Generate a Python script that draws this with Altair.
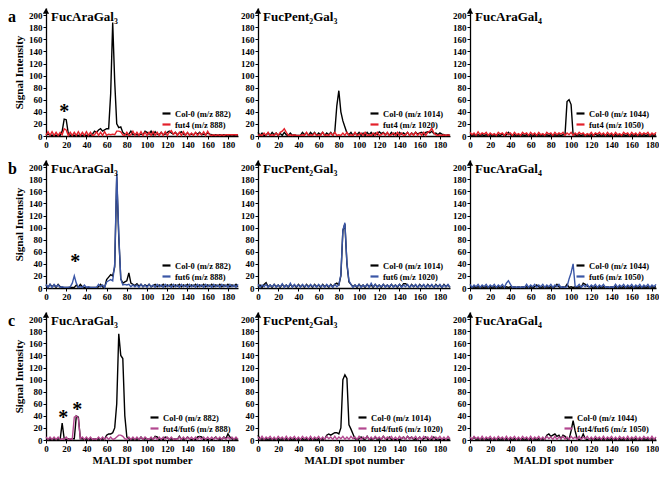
import altair as alt
import pandas as pd

# ---------------- data ----------------
glycans = ["FucAraGal₃", "FucPent₂Gal₃", "FucAraGal₄"]
col0_mz = [882, 1014, 1044]
mutant_mz = [888, 1020, 1050]
mutants = ["fut4", "fut6", "fut4/fut6"]
row_letters = ["a", "b", "c"]
mutant_colors = ["#e3202a", "#3a56a6", "#b3478f"]
x_ticks = [0, 20, 40, 60, 80, 100, 120, 140, 160, 180]
y_ticks = [0, 20, 40, 60, 80, 100, 120, 140, 160, 180, 200]
spot_step = 2  # values below are read every 2nd MALDI spot, starting at spot 0

# row a : Col-0 vs fut4
a1_col0 = [2,3,2,1,2,1,2,1,8,28, 27,5,1,2,1,2,1,2,1,2, 1,2,1,3,8,6,10,12,8,10,
           12,12,70,188,90,20,14,15,6,3, 2,3,8,2,3,2,2,3,2,8, 6,3,8,2,7,3,2,6,2,3,
           6,8,5,3,6,2,5,7,3,2, 5,2,3,2,5,3,6,2,3,2, 5,3,2,1,2,1,2,1,2,1, 2,1,2,1,2,1]
a1_mut = [1,7,1,7,1,6,1,6,2,12, 10,1,6,1,6,1,7,1,6,1, 7,1,6,1,2,7,1,6,1,7,
          1,3,2,3,2,8,8,7,2,1, 6,1,2,8,1,6,1,7,1,6, 1,6,1,7,1,6,1,6,1,7,
          1,6,9,3,6,1,6,1,7,1, 6,1,5,1,6,1,5,2,7,1, 8,2,1,2,1,2,1,2,1,2, 2,2,2,2,2,2]
a2_col0 = [6,1,5,1,2,5,1,6,2,5, 1,4,1,6,2,1,5,1,2,1, 1,1,6,2,5,1,6,2,6,1,
           5,2,6,1,5,2,6,1,7,50, 75,40,25,15,5,2,6,1,5,2, 6,1,5,1,6,2,6,1,5,2,
           7,4,6,2,5,1,6,2,5,1, 6,3,5,2,6,1,5,2,6,3, 5,6,2,6,7,5,8,4,5,2, 5,3,2,1,2,1]
a2_mut = [1,2,1,5,1,6,1,2,1,5, 1,6,8,12,6,1,2,1,2,1, 1,1,2,1,6,1,2,1,5,1,
          2,1,6,1,2,1,5,1,6,1, 2,1,5,1,6,1,2,1,6,1, 2,5,1,6,1,2,1,5,1,6,
          1,2,5,1,6,1,2,5,1,6, 1,5,1,2,6,1,5,1,6,1, 5,1,6,1,6,8,13,5,2,1, 2,1,2,1,2,1]
a3_col0 = [2,1,2,1,2,1,2,1,2,1, 2,1,2,1,2,1,3,1,2,6, 2,1,2,1,2,1,2,1,2,1,
           2,1,2,1,2,1,2,1,2,1, 2,1,2,1,2,1,2,2,57,60, 52,2,2,1,2,1,2,1,2,1,
           2,1,3,1,2,1,2,1,2,1, 2,1,2,1,2,1,2,1,2,1, 2,1,2,1,2,1,2,1,2,1, 2,1,2,1,2,1]
a3_mut = [6,2,5,1,7,2,5,3,6,1, 5,2,4,1,6,3,5,1,6,2, 5,1,6,2,4,1,6,3,5,1,
          6,2,5,1,6,2,4,1,6,3, 5,1,6,2,5,3,6,1,5,2, 6,1,5,2,6,3,5,1,4,2,
          6,1,5,3,6,2,5,1,6,2, 5,1,6,2,4,1,6,3,5,1, 6,2,5,1,6,2,5,3,6,1, 5,2,6,1,5,2]

# row b : Col-0 vs fut6
b1_col0 = [5,1,6,2,5,1,6,2,1,1, 1,1,1,1,1,5,1,6,2,1, 1,1,1,1,1,1,2,6,2,1,
           14,18,22,20,35,185,85,15,8,10, 12,25,8,6,4,7,3,6,2,5, 3,6,2,4,6,2,5,3,6,2,
           5,3,6,2,5,3,6,2,5,3, 6,2,5,3,6,2,5,3,6,2, 5,3,6,2,5,3,6,2,5,3, 6,2,5,3,6,2]
b1_mut = [6,1,6,1,6,2,5,1,2,1, 1,1,2,8,20,8,1,2,1,5, 1,2,1,1,1,1,6,2,5,1,
          10,12,14,12,40,190,90,15,5,6, 5,6,2,5,2,5,1,6,2,5, 1,6,2,5,1,6,2,5,1,6,
          2,5,1,6,2,5,1,6,2,5, 1,6,2,5,1,6,2,5,1,6, 2,5,1,6,2,5,1,6,2,5, 1,6,2,5,1,6]
b2_col0 = [2,5,1,6,9,2,5,1,6,2, 5,1,6,2,5,1,6,2,5,1, 6,2,5,1,6,2,5,1,6,2,
           5,1,6,2,5,1,6,2,6,8, 5,20,95,106,40,10,6,2,5,1, 6,2,5,1,6,2,5,1,6,2,
           5,1,6,2,5,1,6,2,5,1, 6,2,7,7,5,1,6,2,5,1, 6,2,5,1,6,2,5,1,6,2, 5,1,6,2,5,1]
b2_mut = [6,1,5,2,6,1,5,2,6,1, 5,2,7,1,5,2,8,1,6,2, 5,1,6,2,5,1,6,2,5,1,
          6,2,5,1,6,2,5,1,6,2, 5,22,96,108,42,12,6,1,5,2, 6,1,5,2,6,1,8,2,6,1,
          5,2,6,1,5,2,6,1,5,2, 6,1,5,2,6,1,5,2,6,1, 5,2,6,1,5,2,6,1,5,2, 6,1,5,2,6,1]
b3_col0 = [2,1,2,1,2,1,2,1,2,1, 2,1,2,1,2,1,2,1,2,1, 2,1,2,1,2,1,2,1,2,1,
           2,1,2,5,2,1,2,1,2,1, 2,1,2,6,2,1,2,1,6,1, 2,1,2,1,2,1,8,6,3,2,
           2,1,2,1,2,1,2,1,2,1, 2,1,2,1,2,1,2,1,2,1, 2,1,2,1,2,1,2,1,2,1, 2,1,2,1,2,1]
b3_mut = [6,1,5,2,6,1,5,2,6,1, 5,2,6,1,5,2,6,1,8,12, 6,1,2,1,2,1,2,1,6,1,
          5,2,6,1,5,2,6,1,5,2, 6,1,5,2,6,1,2,1,2,15, 25,40,3,2,6,1,5,2,6,1,
          5,2,6,1,5,2,6,1,2,1, 2,1,6,1,5,2,6,1,5,2, 6,1,5,2,6,1,5,2,6,1, 5,2,6,1,5,2]

# row c : Col-0 vs fut4/fut6
c1_col0 = [2,1,2,1,2,1,2,1,28,2, 1,2,1,2,2,40,38,2,2,1, 2,1,2,1,2,1,2,1,2,1,
           8,10,10,12,20,60,176,140,135,40, 5,2,1,2,1,2,1,5,1,2, 2,1,2,1,6,5,1,2,1,5,
           4,1,2,1,2,1,6,1,2,1, 5,2,1,2,1,5,6,5,1,2, 1,2,1,2,5,1,2,1,5,2, 10,5,2,1,2,1]
c1_mut = [5,1,5,1,5,1,5,1,2,1, 5,1,2,1,38,40,36,2,5,1, 5,1,5,1,2,1,5,1,5,1,
          5,1,5,1,2,5,8,8,6,2, 1,5,1,5,1,5,1,5,1,5, 2,1,5,1,5,1,5,1,5,1,
          5,1,5,1,2,1,5,1,5,1, 5,1,5,1,5,1,5,1,5,1, 5,1,5,1,5,1,5,1,5,1, 5,1,5,1,5,1]
c2_col0 = [8,1,2,1,2,1,2,1,2,1, 2,1,2,1,2,1,2,1,2,1, 2,1,2,1,2,1,2,1,2,1,
           2,1,2,1,8,10,8,10,12,12, 10,20,100,108,102,25,18,10,2,1, 2,5,2,1,6,1,2,1,5,1,
           2,1,6,2,1,5,1,2,1,2, 1,2,5,1,6,2,5,1,2,1, 5,1,2,5,1,2,1,5,1,2, 1,2,1,2,1,2]
c2_mut = [5,1,6,1,5,2,6,1,5,1, 6,2,5,1,6,1,5,2,6,1, 5,1,6,2,5,1,6,1,5,2,
          6,1,5,1,6,2,5,1,6,1, 5,2,6,1,5,1,6,2,5,1, 6,1,5,2,6,1,5,1,6,2,
          5,1,6,1,5,2,6,1,5,1, 6,2,5,1,6,1,5,2,6,1, 5,1,6,2,5,1,6,1,5,2, 6,1,5,1,6,2]
c3_col0 = [2,1,5,1,2,1,2,1,2,1, 2,1,2,1,2,1,2,1,2,1, 2,1,2,1,2,1,2,1,2,1,
           2,1,2,1,2,1,2,1,8,10, 6,8,10,6,8,2,8,6,2,1, 15,32,15,2,1,2,10,2,1,2,
           2,1,2,1,2,1,2,1,2,1, 2,1,2,1,2,1,2,1,2,1, 2,1,2,1,2,1,2,1,2,1, 2,1,2,1,2,1]
c3_mut = [5,1,6,2,5,1,6,1,5,2, 6,1,5,1,6,2,5,1,6,1, 5,2,6,1,5,1,6,2,5,1,
          6,1,5,2,6,1,5,1,6,2, 5,1,6,1,5,2,6,1,5,1, 6,2,5,1,6,1,5,2,6,1,
          5,1,6,2,5,1,6,1,5,2, 6,1,5,1,6,2,5,1,6,1, 5,2,6,1,5,1,6,2,5,1, 6,1,5,2,6,1]

series = [
    [(a1_col0, a1_mut), (a2_col0, a2_mut), (a3_col0, a3_mut)],
    [(b1_col0, b1_mut), (b2_col0, b2_mut), (b3_col0, b3_mut)],
    [(c1_col0, c1_mut), (c2_col0, c2_mut), (c3_col0, c3_mut)],
]

# asterisks (first column only)
star_row = [0, 1, 2, 2]
star_spot = [18, 29, 17, 31]
star_signal = [46, 50, 43, 56]

# ---------------- styling ----------------
FONT = "Liberation Serif"
x_max = [190, 190, 184]      # last column is cut by the figure edge
widths = [192, 192, 186]
Y_MAX = 212
H = 128


def panel(r, c):
    col_vals, mut_vals = series[r][c]
    col_label = f"Col-0 (m/z {col0_mz[c]})"
    mut_label = f"{mutants[r]} (m/z {mutant_mz[c]})"
    n1, n2 = len(col_vals), len(mut_vals)
    df = pd.DataFrame({
        "spot": [i * spot_step for i in range(n1)] + [i * spot_step for i in range(n2)],
        "signal": col_vals + mut_vals,
        "line": [col_label] * n1 + [mut_label] * n2,
    })
    df = df[df["spot"] <= x_max[c]]

    x = alt.X("spot:Q", scale=alt.Scale(domain=[0, x_max[c]], nice=False),
              axis=alt.Axis(values=x_ticks, title="MALDI spot number" if r == 2 else None))
    y = alt.Y("signal:Q", scale=alt.Scale(domain=[0, Y_MAX], nice=False),
              axis=alt.Axis(values=y_ticks, title="Signal Intensity" if c == 0 else None))
    color = alt.Color("line:N",
                      scale=alt.Scale(domain=[col_label, mut_label],
                                      range=["#000000", mutant_colors[r]]),
                      legend=alt.Legend(title=None, orient="bottom-right", offset=7))

    base = alt.Chart(df)
    col_line = base.transform_filter(alt.datum.line == col_label).mark_line(
        strokeWidth=1.4).encode(x=x, y=y, color=color)
    mut_line = base.transform_filter(alt.datum.line == mut_label).mark_line(
        strokeWidth=1.4).encode(x=x, y=y, color=color)

    name_df = pd.DataFrame({"spot": [5], "signal": [Y_MAX], "label": [glycans[c]]})
    name = alt.Chart(name_df).mark_text(
        align="left", baseline="top", dy=3, fontSize=13, fontWeight="bold", font=FONT,
        color="black").encode(x=x, y=y, text="label:N")

    arrow_df = pd.DataFrame({"spot": [0], "signal": [Y_MAX - 5]})
    arrow = alt.Chart(arrow_df).mark_point(
        shape="triangle-up", filled=True, size=40, color="black", opacity=1).encode(x=x, y=y)

    layers = [col_line, mut_line, name, arrow]

    idx = [k for k in range(len(star_row)) if star_row[k] == r and c == 0]
    if idx:
        star_df = pd.DataFrame({"spot": [star_spot[k] for k in idx],
                                "signal": [star_signal[k] for k in idx],
                                "label": ["*"] * len(idx)})
        stars = alt.Chart(star_df).mark_text(
            fontSize=20, fontWeight="bold", font=FONT, color="black",
            baseline="middle", dy=4).encode(x=x, y=y, text="label:N")
        layers.append(stars)

    ch = alt.layer(*layers).properties(width=widths[c], height=H)
    if c == 0:
        ch = ch.properties(title=alt.TitleParams(
            text=row_letters[r], anchor="start", frame="group", orient="top",
            offset=0, dx=-38, dy=30, baseline="alphabetic",
            fontSize=16, fontWeight="bold", font=FONT, color="black"))
    return ch


charts = [panel(r, c) for r in range(3) for c in range(3)]

chart = alt.concat(
    *charts, columns=3, spacing={"row": 24, "column": 20}, bounds="flush"
).resolve_scale(color="independent").properties(
    padding={"left": 0, "top": 0, "right": 0, "bottom": 0}
).configure_view(strokeWidth=0).configure_axis(
    labelFont=FONT, labelFontSize=9, labelFontWeight="bold", labelColor="black",
    titleFont=FONT, titleFontSize=11, titleFontWeight="bold", titleColor="black",
    domainColor="black", domainWidth=1.3, tickColor="black", tickWidth=1, tickSize=3,
    grid=False, labelPadding=1, labelOverlap=False
).configure_axisY(titlePadding=4).configure_axisX(titlePadding=1, labelFlush=False).configure_legend(
    labelFont=FONT, labelFontSize=8.5, labelFontWeight="bold", labelColor="black",
    symbolType="stroke", symbolStrokeWidth=2.2, symbolSize=64, rowPadding=1,
    padding=0, labelOffset=3, labelLimit=250
)

chart.save("out.html", embed_options={"renderer": "svg", "actions": False})
